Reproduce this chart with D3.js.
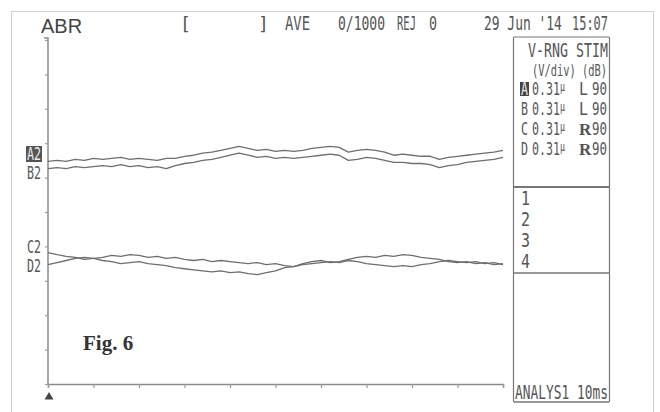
<!DOCTYPE html>
<html>
<head>
<meta charset="utf-8">
<script src="https://cdn.jsdelivr.net/npm/d3@7"></script>
<style>
  body { margin: 0; background: #fff; }
  svg text { fill: #555; }
</style>
</head>
<body>
<svg id="chart" width="660" height="412"></svg>
<script>
// sample times (ms), one every 0.2 ms over the 10 ms sweep
let times = d3.range(51).map(i => +(i * 0.2).toFixed(1));

// traces in divisions (0.31 uV/div)
let traceA = [6.47, 6.50, 6.47, 6.53, 6.50, 6.56, 6.53, 6.56, 6.59, 6.53, 6.56, 6.53, 6.50, 6.56, 6.56, 6.62, 6.65,
  6.71, 6.74, 6.79, 6.85, 6.91, 6.85, 6.79, 6.82, 6.76, 6.79, 6.76, 6.79, 6.85, 6.88, 6.91, 6.88, 6.74, 6.79, 6.82,
  6.79, 6.74, 6.65, 6.68, 6.65, 6.62, 6.62, 6.53, 6.59, 6.62, 6.65, 6.68, 6.71, 6.74, 6.79];
let traceB = [6.26, 6.29, 6.26, 6.32, 6.29, 6.32, 6.35, 6.32, 6.38, 6.32, 6.35, 6.29, 6.32, 6.26, 6.35, 6.41, 6.44,
  6.50, 6.53, 6.59, 6.65, 6.71, 6.65, 6.59, 6.62, 6.56, 6.59, 6.56, 6.59, 6.62, 6.65, 6.68, 6.65, 6.50, 6.53, 6.59,
  6.56, 6.50, 6.44, 6.44, 6.41, 6.41, 6.38, 6.29, 6.35, 6.38, 6.44, 6.47, 6.50, 6.53, 6.59];
let traceC = [3.82, 3.76, 3.71, 3.68, 3.62, 3.65, 3.68, 3.74, 3.71, 3.76, 3.74, 3.68, 3.71, 3.65, 3.68, 3.62, 3.59,
  3.62, 3.56, 3.59, 3.56, 3.53, 3.50, 3.53, 3.47, 3.50, 3.44, 3.41, 3.47, 3.50, 3.53, 3.56, 3.53, 3.59, 3.56, 3.50,
  3.47, 3.44, 3.41, 3.44, 3.41, 3.47, 3.50, 3.56, 3.59, 3.56, 3.53, 3.56, 3.50, 3.53, 3.47];
let traceD = [3.47, 3.53, 3.59, 3.65, 3.68, 3.65, 3.59, 3.56, 3.50, 3.53, 3.56, 3.50, 3.47, 3.44, 3.38, 3.35, 3.32,
  3.29, 3.26, 3.29, 3.24, 3.26, 3.21, 3.18, 3.24, 3.29, 3.38, 3.41, 3.50, 3.56, 3.59, 3.53, 3.56, 3.62, 3.68, 3.71,
  3.68, 3.74, 3.71, 3.76, 3.74, 3.68, 3.65, 3.62, 3.56, 3.53, 3.56, 3.50, 3.53, 3.47, 3.50];

let traceLabels = ['A2', 'B2', 'C2', 'D2'];
let channels = ['A', 'B', 'C', 'D'];
let vRange = ['0.31', '0.31', '0.31', '0.31'];
let stimSide = ['L', 'L', 'R', 'R'];
let stimDb = [90, 90, 90, 90];
let slots = ['1', '2', '3', '4'];

let svg = d3.select('#chart');
let mono = "'DejaVu Sans Mono', monospace";

let xScale = d3.scaleLinear().domain([0, 10]).range([48, 503]);
let yScale = d3.scaleLinear().domain([0, 10]).range([384, 40]);

// outer frame of the print
svg.append('rect')
  .attr('x', 11.5).attr('y', 11.5)
  .attr('width', 642).attr('height', 420)
  .attr('fill', 'none').attr('stroke', '#d0d0d0');

// narrow printer text: squeeze a mono font to the width seen on the print
let narrow = (g, t, x, y, w, size) => {
  let el = g.append('text')
    .style('font-family', mono)
    .style('font-size', size + 'px')
    .text(t);
  let natural = el.node().getComputedTextLength();
  el.attr('transform', `translate(${x},${y}) scale(${w / natural},1)`);
  return el;
};

// header line
svg.append('text')
  .attr('x', 41).attr('y', 33)
  .style('font-family', "'Liberation Sans', Arial, sans-serif")
  .style('font-size', '20px')
  .style('fill', '#444')
  .text('ABR');
svg.append('text').attr('x', 180).attr('y', 30).style('font-family', mono).style('font-size', '18px').text('[');
svg.append('text').attr('x', 258).attr('y', 30).style('font-family', mono).style('font-size', '18px').text(']');
narrow(svg, 'AVE', 285, 30, 25, 20);
narrow(svg, '0/1000', 338, 30, 47, 20);
narrow(svg, 'REJ', 397, 30, 19, 20);
narrow(svg, '0', 429, 30, 8, 20);
narrow(svg, "29 Jun '14", 484, 30, 78, 20);
narrow(svg, '15:07', 572, 30, 36, 20);

// axes
let yAxis = d3.axisLeft(yScale).tickValues(d3.range(0, 11)).tickSize(3).tickFormat('');
let xAxis = d3.axisBottom(xScale).tickValues(d3.range(0, 11)).tickSize(4).tickFormat('');
let gy = svg.append('g').attr('transform', 'translate(48,0)').call(yAxis);
let gx = svg.append('g').attr('transform', 'translate(0,384)').call(xAxis);
[gx, gy].forEach(g => {
  g.select('.domain').attr('stroke', '#8a8a8a').attr('stroke-width', 1.5);
  g.selectAll('.tick line').attr('stroke', '#9a9a9a').attr('stroke-width', 1.2);
});
gy.select('.domain').attr('d', 'M-4,38H0V384');

// start marker
svg.append('path')
  .attr('d', d3.symbol(d3.symbolTriangle, 34))
  .attr('transform', `translate(${xScale(0) + 1},397)`)
  .attr('fill', '#444');

// traces
let line = d3.line()
  .x((d, i) => xScale(times[i]))
  .y(d => yScale(d));
[traceA, traceB, traceC, traceD].forEach(tr => {
  svg.append('path')
    .datum(tr)
    .attr('d', line)
    .attr('fill', 'none')
    .attr('stroke', '#6e6e6e')
    .attr('stroke-width', 1.3)
    .attr('stroke-linejoin', 'round');
});

// trace labels on the left
let labelY = [160, 179, 253, 272];
traceLabels.forEach((lab, i) => {
  if (i == 0) {
    svg.append('rect').attr('x', 26).attr('y', 146).attr('width', 16).attr('height', 16).attr('fill', '#555');
  }
  narrow(svg, lab, 27, labelY[i], 14, 17).style('fill', i == 0 ? '#eee' : '#555');
});

// right side panel
let panel = svg.append('g');
let pLine = (x1, y1, x2, y2, w) => panel.append('line')
  .attr('x1', x1).attr('y1', y1).attr('x2', x2).attr('y2', y2)
  .attr('stroke', '#777').attr('stroke-width', w);
pLine(513.5, 37, 609, 37, 1.2);
pLine(513.5, 37, 513.5, 402, 1.2);
pLine(609.5, 37, 609.5, 402, 1.2);
pLine(513, 187, 610, 187, 2);
pLine(513, 273, 610, 273, 1.5);
pLine(514, 402, 609, 402, 1.5);

narrow(panel, 'V-RNG STIM', 528, 57, 80, 20);
narrow(panel, '(V/div) (dB)', 532, 76, 75, 16);

let rowY = [95, 115, 135, 155];
channels.forEach((ch, i) => {
  if (i == 0) {
    panel.append('rect').attr('x', 520).attr('y', 82).attr('width', 9).attr('height', 14).attr('fill', '#444');
  }
  narrow(panel, ch, 521, rowY[i], 7, 17).style('fill', i == 0 ? '#eee' : '#555');
  // range with a small raised micro sign
  let rng = panel.append('text')
    .style('font-family', mono).style('font-size', '17px');
  rng.append('tspan').text(vRange[i]);
  rng.append('tspan').attr('dy', -4).style('font-size', '12px').text('\u00b5');
  let natural = rng.node().getComputedTextLength();
  rng.attr('transform', `translate(532,${rowY[i]}) scale(${33 / natural},1)`);

  let side = panel.append('text')
    .attr('x', 579).attr('y', rowY[i])
    .text(stimSide[i]);
  if (stimSide[i] == 'R') {
    side.style('font-family', "'Liberation Serif', serif").style('font-size', '17px').style('font-weight', 'bold');
  } else {
    side.style('font-family', mono).style('font-size', '17px')
      .attr('textLength', 9).attr('lengthAdjust', 'spacingAndGlyphs');
  }
  narrow(panel, String(stimDb[i]), 592, rowY[i], 15, 17);
});

let slotY = [205, 226, 247, 268];
slots.forEach((s, i) => narrow(panel, s, 521, slotY[i], 9, 19));

narrow(panel, 'ANALYS1  10ms', 515, 399, 93, 20);

// figure caption
svg.append('text')
  .attr('x', 83).attr('y', 350)
  .style('font-family', "'Liberation Serif', 'Times New Roman', serif")
  .style('font-size', '21px')
  .style('font-weight', 'bold')
  .style('fill', '#333')
  .text('Fig. 6');
</script>
</body>
</html>
